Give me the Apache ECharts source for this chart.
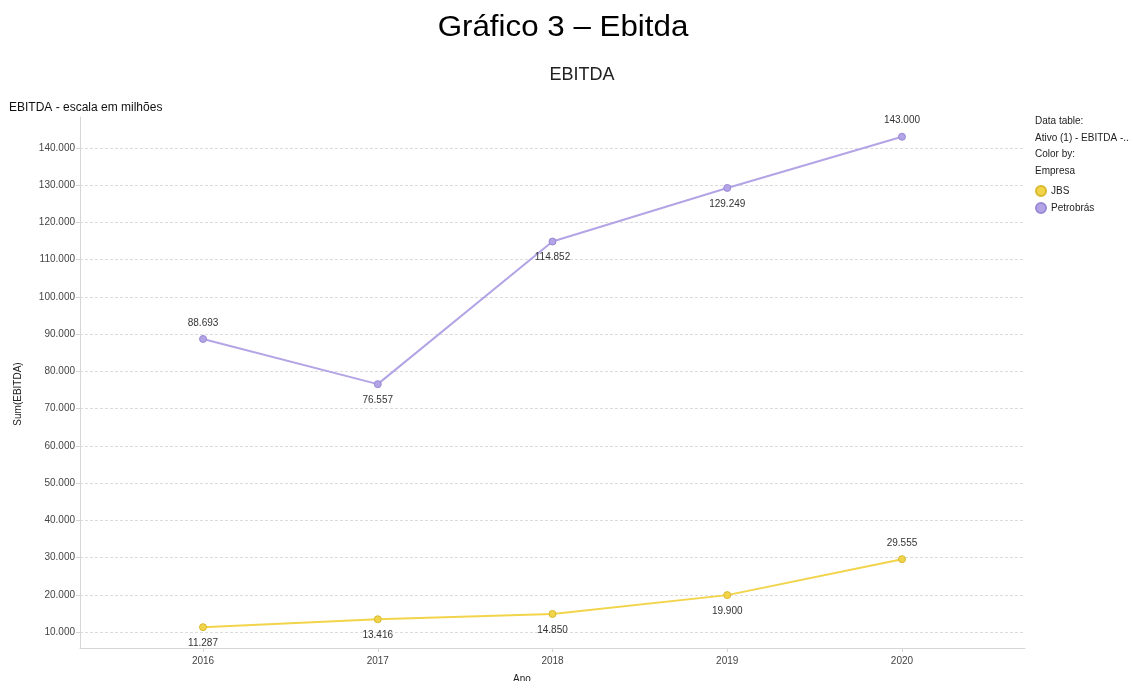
<!DOCTYPE html>
<html>
<head>
<meta charset="utf-8">
<script src="https://cdn.jsdelivr.net/npm/echarts@6/dist/echarts.min.js"></script>
<style>html,body{margin:0;padding:0;background:#fff}#c{width:1130px;height:681px}</style>
</head>
<body>
<div id="c"></div>
<script>
const years = [2016, 2017, 2018, 2019, 2020];
const jbs = [11287, 13416, 14850, 19900, 29555];
const petrobras = [88693, 76557, 114852, 129249, 143000];
const jbsLabelPos = ['bottom', 'bottom', 'bottom', 'bottom', 'top'];
const petroLabelPos = ['top', 'bottom', 'bottom', 'bottom', 'top'];
const yTicks = [10000, 20000, 30000, 40000, 50000, 60000, 70000, 80000, 90000, 100000, 110000, 120000, 130000, 140000];

const fmt = v => Math.round(v).toString().replace(/\B(?=(\d{3})+(?!\d))/g, '.');
const FONT = 'Liberation Sans, Arial, sans-serif';

function mk(name, vals, pos, color, border) {
  return {
    name, type: 'line', data: years.map((y, i) => ({
      value: [y, vals[i]],
      label: { position: pos[i] }
    })),
    symbol: 'circle', symbolSize: 7,
    lineStyle: { color, width: 2 },
    itemStyle: { color, borderColor: border, borderWidth: 1 },
    label: { show: true, formatter: p => fmt(p.value[1]), fontSize: 10, color: '#333', fontFamily: FONT, distance: 7 },
    emphasis: { disabled: true }
  };
}

const chart = echarts.init(document.getElementById('c'), null, { renderer: 'canvas' });
chart.setOption({
  animation: false,
  backgroundColor: '#fff',
  textStyle: { fontFamily: FONT },
  grid: { left: 80, right: 105, top: 117, bottom: 33, containLabel: false },
  legend: {
    orient: 'vertical', left: 1030, top: 180, itemGap: 5,
    itemWidth: 10, itemHeight: 10, icon: 'circle',
    textStyle: { fontSize: 10, color: '#222', fontFamily: FONT },
    data: ['JBS', 'Petrobrás']
  },
  graphic: [
    { type: 'text', x: 563, y: 28, scaleX: 1.08, style: { text: 'Gráfico 3 – Ebitda', font: '29px ' + FONT, fill: '#000', align: 'center', verticalAlign: 'middle' } },
    { type: 'text', x: 582, y: 75, style: { text: 'EBITDA', font: '18px ' + FONT, fill: '#222', align: 'center', verticalAlign: 'middle' } },
    { type: 'text', x: 9, y: 102, style: { text: 'EBITDA - escala em milhões', font: '12px ' + FONT, fill: '#111' } },
    { type: 'text', x: 1035, y: 116, style: { text: 'Data table:', font: '10px ' + FONT, fill: '#222' } },
    { type: 'text', x: 1035, y: 133, style: { text: 'Ativo (1) - EBITDA -...', font: '10px ' + FONT, fill: '#222' } },
    { type: 'text', x: 1035, y: 149, style: { text: 'Color by:', font: '10px ' + FONT, fill: '#222' } },
    { type: 'text', x: 1035, y: 166, style: { text: 'Empresa', font: '10px ' + FONT, fill: '#222' } },
    { type: 'text', x: 522, y: 674, style: { text: 'Ano', font: '10px ' + FONT, fill: '#222', align: 'center' } },
    { type: 'text', x: 18, y: 394, rotation: Math.PI / 2, style: { text: 'Sum(EBITDA)', font: '10px ' + FONT, fill: '#222', align: 'center', verticalAlign: 'middle' } }
  ],
  xAxis: {
    type: 'value', min: 2015.296, max: 2020.704,
    axisLine: { show: true, lineStyle: { color: '#d6d6d6', width: 1 } },
    axisTick: { show: true, customValues: years, length: 4, lineStyle: { color: '#d6d6d6' } },
    axisLabel: { customValues: years, formatter: v => String(v), fontSize: 10, color: '#444', margin: 8 },
    splitLine: { show: false }
  },
  yAxis: {
    type: 'value', min: 5700, max: 148300,
    axisLine: { show: true, lineStyle: { color: '#d6d6d6', width: 1 } },
    axisTick: { show: true, customValues: yTicks, length: 4, lineStyle: { color: '#d6d6d6' } },
    axisLabel: { customValues: yTicks, formatter: v => fmt(v), fontSize: 10, color: '#444', margin: 5 },
    splitLine: { show: true, customValues: yTicks, lineStyle: { color: '#dcdcdc', type: [3, 2], width: 1 } }
  },
  series: [
    mk('JBS', jbs, jbsLabelPos, '#f2d44a', '#d9b92e'),
    mk('Petrobrás', petrobras, petroLabelPos, '#b3a4e6', '#9a89d6')
  ]
});
</script>
</body>
</html>
